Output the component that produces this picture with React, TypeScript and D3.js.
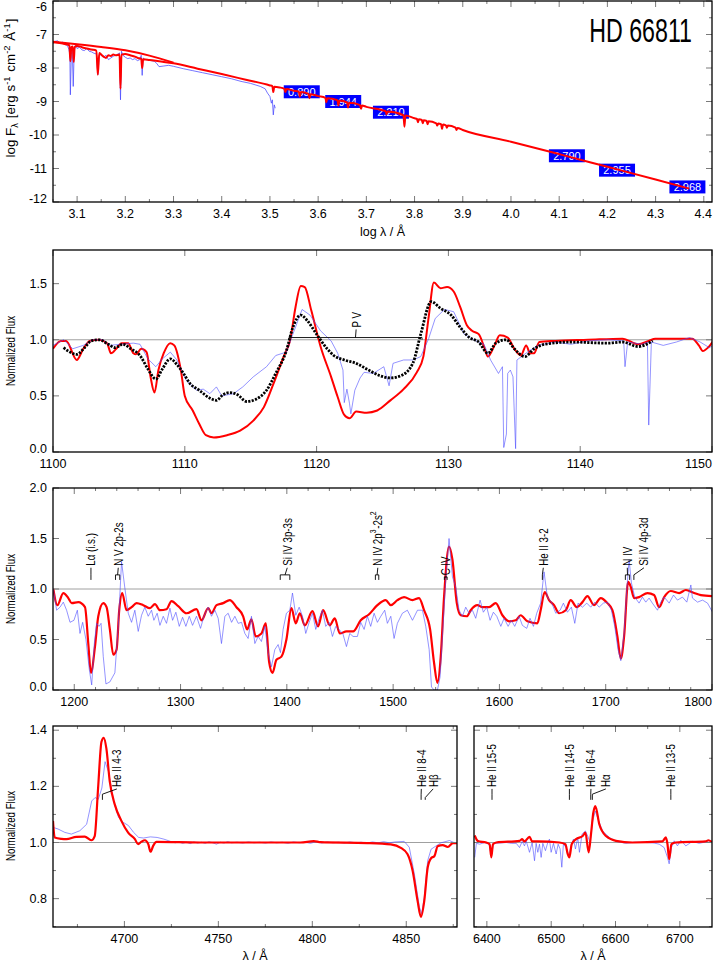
import React from "react";
import * as d3 from "d3";

type P = [number, number];
type Part = [string, "n" | "sup" | "sub"];
interface LineId { comps: number[]; lx: number; base: number; join: number; top: number; parts: Part[] }

const FONT = "'Liberation Sans', Arial, Helvetica, sans-serif";
const RED = "#ff0000";
const BLUE = "#4a4aff";

// ================= Panel 1 : SED =================
const SED_CONT: P[] = [[3.05, -7.22], [3.1, -7.29], [3.15, -7.37], [3.2, -7.47], [3.25, -7.63], [3.3, -7.84]];
const SED_MODEL: P[] = [
  [3.05, -7.23], [3.06, -7.25], [3.07, -7.27], [3.08, -7.3], [3.084, -7.32], [3.086, -7.8], [3.088, -7.38], [3.091, -7.36],
  [3.093, -7.82], [3.095, -7.37], [3.1, -7.34], [3.11, -7.38], [3.12, -7.42], [3.13, -7.45], [3.14, -7.48], [3.143, -8.2],
  [3.146, -7.55], [3.15, -7.6], [3.155, -7.66], [3.16, -7.7], [3.165, -7.62], [3.17, -7.64], [3.175, -7.6], [3.18, -7.62],
  [3.188, -7.6], [3.19, -8.62], [3.192, -7.6], [3.2, -7.58], [3.21, -7.62], [3.22, -7.66], [3.226, -7.7], [3.233, -7.72],
  [3.235, -8.0], [3.237, -7.74], [3.25, -7.76], [3.27, -7.8], [3.3, -7.86], [3.35, -8.02], [3.4, -8.18], [3.45, -8.35],
  [3.5, -8.52], [3.505, -8.54], [3.507, -8.72], [3.509, -8.56], [3.52, -8.58], [3.53, -8.62], [3.532, -8.72], [3.534, -8.63],
  [3.55, -8.68], [3.56, -8.71], [3.562, -8.86], [3.564, -8.72], [3.58, -8.77], [3.582, -8.9], [3.584, -8.78], [3.6, -8.84],
  [3.615, -8.89], [3.617, -9.02], [3.619, -8.9], [3.64, -8.96], [3.642, -9.12], [3.644, -8.97], [3.66, -9.03], [3.662, -9.18],
  [3.664, -9.04], [3.687, -9.11], [3.689, -9.22], [3.691, -9.12], [3.7, -9.16], [3.74, -9.29], [3.742, -9.38], [3.744, -9.3],
  [3.777, -9.41], [3.779, -9.75], [3.781, -9.42], [3.8, -9.5], [3.805, -9.52], [3.807, -9.62], [3.809, -9.53], [3.815, -9.55],
  [3.817, -9.65], [3.819, -9.56], [3.825, -9.58], [3.827, -9.68], [3.829, -9.59], [3.845, -9.65], [3.847, -9.72], [3.849, -9.66],
  [3.855, -9.68], [3.857, -9.82], [3.859, -9.69], [3.865, -9.71], [3.867, -9.78], [3.869, -9.72], [3.885, -9.78], [3.887, -9.85],
  [3.889, -9.79], [3.9, -9.85], [4.0, -10.2], [4.1, -10.57], [4.2, -10.95], [4.3, -11.33], [4.37, -11.6],
];
const SED_OBS: P[] = [
  [3.05, -7.27], [3.055, -7.2], [3.06, -7.19], [3.065, -7.26], [3.07, -7.23], [3.075, -7.3], [3.08, -7.33], [3.083, -7.45],
  [3.085, -7.6], [3.086, -8.8], [3.088, -7.6], [3.09, -7.45], [3.092, -8.55], [3.094, -7.5], [3.097, -7.28], [3.1, -7.42],
  [3.105, -7.38], [3.11, -7.46], [3.115, -7.48], [3.12, -7.42], [3.125, -7.5], [3.13, -7.52], [3.135, -7.56], [3.14, -7.58],
  [3.143, -8.2], [3.146, -7.62], [3.15, -7.6], [3.155, -7.68], [3.16, -7.62], [3.165, -7.75], [3.17, -7.7], [3.175, -7.65],
  [3.18, -7.62], [3.185, -7.58], [3.188, -7.55], [3.19, -8.95], [3.192, -7.5], [3.195, -7.62], [3.2, -7.68], [3.205, -7.72],
  [3.21, -7.7], [3.215, -7.75], [3.22, -7.72], [3.225, -7.78], [3.23, -7.75], [3.233, -7.62], [3.235, -8.22], [3.237, -7.7],
  [3.24, -7.74], [3.25, -7.77], [3.26, -7.8], [3.265, -7.86], [3.27, -7.96], [3.28, -7.94], [3.29, -7.92], [3.3, -7.95],
  [3.32, -8.02], [3.34, -8.08], [3.36, -8.14], [3.38, -8.2], [3.4, -8.26], [3.42, -8.32], [3.44, -8.4], [3.46, -8.46],
  [3.48, -8.55], [3.49, -8.62], [3.495, -8.75], [3.5, -8.85], [3.503, -9.05], [3.505, -8.95], [3.507, -9.4], [3.509, -9.1],
  [3.511, -9.2],
];
const PHOT_LOGLAM = [3.566, 3.652, 3.751, 4.116, 4.22, 4.366];
const PHOT_LOGF = [-8.71, -9.0, -9.32, -10.62, -11.05, -11.55];
const PHOT_MAG = ["0.890", "1.944", "2.210", "2.790", "2.955", "2.968"];
const SED_XTICKS = [3.1, 3.2, 3.3, 3.4, 3.5, 3.6, 3.7, 3.8, 3.9, 4.0, 4.1, 4.2, 4.3, 4.4];
const SED_XMINOR = [3.05, 3.15, 3.25, 3.35, 3.45, 3.55, 3.65, 3.75, 3.85, 3.95, 4.05, 4.15, 4.25, 4.35];
const SED_YTICKS = [-12, -11, -10, -9, -8, -7, -6];
const SED_YMINOR = [-11.5, -10.5, -9.5, -8.5, -7.5, -6.5];

// ================= Panel 2 : P V =================
const PV_MODEL: P[] = [
  [1100.0, 0.92], [1100.6, 0.99], [1101.0, 0.99], [1101.8, 0.82], [1102.3, 0.92], [1102.8, 0.99], [1103.5, 1.0], [1104.1, 0.97],
  [1104.4, 0.88], [1104.8, 0.92], [1105.2, 0.97], [1105.7, 0.97], [1106.1, 0.88], [1106.3, 0.87], [1106.7, 0.92], [1107.1, 0.89],
  [1107.4, 0.67], [1107.7, 0.53], [1108.0, 0.73], [1108.4, 0.88], [1108.9, 0.97], [1109.2, 0.95], [1109.7, 0.73], [1110.0, 0.5],
  [1110.6, 0.37], [1111.1, 0.25], [1111.6, 0.15], [1112.2, 0.13], [1113.2, 0.15], [1114.2, 0.19], [1115.2, 0.28], [1116.0, 0.4],
  [1116.7, 0.6], [1117.5, 0.85], [1118.0, 1.0], [1118.4, 1.29], [1118.8, 1.48], [1119.1, 1.47], [1119.6, 1.26], [1120.3, 0.94],
  [1121.1, 0.67], [1121.6, 0.49], [1122.1, 0.33], [1122.5, 0.3], [1123.0, 0.36], [1123.8, 0.35], [1124.6, 0.37], [1125.6, 0.46],
  [1126.6, 0.56], [1127.6, 0.71], [1128.1, 0.85], [1128.5, 1.2], [1128.9, 1.51], [1129.4, 1.46], [1129.9, 1.47], [1130.4, 1.43],
  [1130.9, 1.29], [1131.4, 1.13], [1131.8, 1.08], [1132.3, 1.05], [1132.7, 0.94], [1133.0, 0.85], [1133.5, 0.95], [1133.9, 1.04],
  [1134.5, 1.02], [1135.0, 0.92], [1135.5, 0.86], [1135.9, 0.95], [1136.2, 0.88], [1136.5, 0.88], [1136.9, 0.98], [1138.1, 0.99],
  [1140.6, 1.0], [1143.2, 1.01], [1144.4, 0.96], [1145.2, 0.99], [1145.7, 1.01], [1148.5, 1.01], [1149.0, 0.95], [1149.3, 0.9],
  [1149.7, 0.93], [1150.1, 0.99],
];
const PV_ALT: P[] = [
  [1100.8, 0.93], [1101.3, 0.89], [1101.8, 0.87], [1102.4, 0.93], [1102.9, 0.99], [1103.5, 1.0], [1104.2, 0.96], [1104.7, 0.93],
  [1105.3, 0.96], [1105.9, 0.92], [1106.6, 0.86], [1107.2, 0.74], [1107.8, 0.65], [1108.3, 0.74], [1108.9, 0.83], [1109.4, 0.78],
  [1109.9, 0.7], [1110.4, 0.61], [1111.1, 0.55], [1111.9, 0.48], [1112.4, 0.46], [1112.9, 0.51], [1113.4, 0.53], [1114.0, 0.51],
  [1114.7, 0.45], [1115.4, 0.47], [1116.2, 0.55], [1116.9, 0.7], [1117.7, 0.9], [1118.2, 1.11], [1118.8, 1.22], [1119.3, 1.17],
  [1120.0, 1.05], [1120.8, 0.92], [1121.3, 0.86], [1122.1, 0.82], [1123.0, 0.79], [1123.8, 0.74], [1124.8, 0.68], [1125.6, 0.66],
  [1126.4, 0.68], [1127.3, 0.79], [1127.9, 1.05], [1128.7, 1.34], [1129.4, 1.28], [1130.2, 1.22], [1130.9, 1.11], [1131.6, 1.02],
  [1132.3, 0.98], [1133.0, 0.88], [1133.6, 0.97], [1134.4, 1.0], [1135.0, 0.92], [1135.8, 0.85], [1136.5, 0.92], [1137.3, 0.96],
  [1139.3, 0.98], [1142.1, 0.97], [1143.2, 0.98], [1144.4, 0.94], [1145.5, 0.99],
];
const PV_OBS: P[] = [
  [1100.0, 0.95], [1100.8, 1.0], [1101.5, 0.92], [1102.3, 0.95], [1103.0, 1.0], [1103.8, 1.0], [1104.3, 0.95], [1105.1, 0.96],
  [1106.1, 0.97], [1106.6, 0.96], [1107.2, 0.83], [1107.8, 0.76], [1108.3, 0.83], [1108.9, 0.89], [1109.4, 0.82], [1110.1, 0.64],
  [1110.9, 0.55], [1111.4, 0.56], [1111.9, 0.52], [1112.4, 0.58], [1112.8, 0.5], [1113.7, 0.52], [1114.4, 0.58], [1115.2, 0.67],
  [1116.2, 0.76], [1116.9, 0.86], [1117.7, 0.89], [1118.2, 1.05], [1118.9, 1.27], [1119.5, 1.22], [1120.3, 1.08], [1121.1, 0.99],
  [1121.6, 0.88], [1122.0, 0.73], [1122.1, 0.44], [1122.3, 0.56], [1122.5, 0.43], [1122.6, 0.34], [1122.9, 0.55], [1123.3, 0.66],
  [1123.6, 0.71], [1124.3, 0.7], [1125.1, 0.76], [1125.5, 0.59], [1125.8, 0.79], [1126.6, 0.82], [1127.3, 0.82], [1127.9, 0.85],
  [1128.5, 1.01], [1129.0, 1.19], [1129.7, 1.27], [1130.4, 1.25], [1131.2, 1.05], [1131.9, 1.0], [1132.7, 0.96], [1133.2, 0.82],
  [1133.8, 0.7], [1134.1, 0.76], [1134.2, 0.04], [1134.4, 0.16], [1134.5, 0.7], [1134.7, 0.73], [1134.9, 0.67], [1135.1, 0.03],
  [1135.2, 0.82], [1136.0, 0.89], [1136.8, 0.95], [1138.1, 0.98], [1139.3, 0.96], [1140.6, 0.99], [1142.1, 1.0], [1143.3, 0.99],
  [1143.4, 0.76], [1143.6, 0.98], [1144.7, 0.96], [1145.1, 0.98], [1145.2, 0.24], [1145.4, 0.98], [1146.3, 0.95], [1147.3, 0.98],
  [1148.3, 1.02], [1149.1, 0.98], [1149.8, 0.93], [1150.2, 0.96],
];
const PV_XTICKS = [1100, 1110, 1120, 1130, 1140, 1150];
const PV_YTICKS = [0, 0.5, 1.0, 1.5];

// ================= Panel 3 : UV =================
const UV_MODEL: P[] = [
  [1180.3, 1.0], [1184.1, 0.84], [1189.7, 0.96], [1194.4, 0.91], [1197.6, 0.86], [1203.8, 0.87], [1210.1, 0.82], [1213.2, 0.46],
  [1215.7, 0.17], [1219.5, 0.43], [1222.6, 0.73], [1227.3, 0.86], [1230.4, 0.82], [1233.5, 0.6], [1236.7, 0.35], [1239.8, 0.4],
  [1242.3, 0.79], [1245.1, 0.96], [1249.2, 0.79], [1253.9, 0.82], [1258.6, 0.86], [1264.9, 0.84], [1271.2, 0.81], [1275.9, 0.85],
  [1280.6, 0.79], [1286.8, 0.8], [1291.5, 0.88], [1297.8, 0.83], [1305.6, 0.76], [1315.0, 0.8], [1319.7, 0.69], [1326.0, 0.81],
  [1329.1, 0.76], [1333.8, 0.84], [1340.1, 0.86], [1346.3, 0.89], [1352.6, 0.82], [1358.9, 0.73], [1362.6, 0.6], [1366.7, 0.7],
  [1370.7, 0.53], [1376.1, 0.56], [1380.2, 0.66], [1383.3, 0.28], [1386.5, 0.17], [1390.2, 0.3], [1394.9, 0.33], [1399.6, 0.5],
  [1404.3, 0.81], [1408.4, 0.66], [1412.2, 0.76], [1416.9, 0.64], [1424.1, 0.78], [1429.4, 0.63], [1434.1, 0.79], [1440.4, 0.64],
  [1445.1, 0.71], [1449.8, 0.56], [1456.1, 0.58], [1462.3, 0.58], [1469.5, 0.69], [1477.4, 0.75], [1485.2, 0.84], [1493.0, 0.89],
  [1497.8, 0.84], [1504.0, 0.89], [1510.3, 0.92], [1518.2, 0.89], [1524.4, 0.91], [1529.1, 0.79], [1534.8, 0.6], [1538.5, 0.27],
  [1541.7, 0.07], [1544.8, 0.33], [1547.9, 0.92], [1552.6, 1.42], [1555.8, 1.29], [1559.9, 0.86], [1563.6, 0.74], [1569.3, 0.73],
  [1573.0, 0.79], [1579.3, 0.84], [1584.0, 0.82], [1590.3, 0.82], [1596.5, 0.86], [1602.8, 0.74], [1609.1, 0.68], [1615.3, 0.69],
  [1620.0, 0.74], [1626.3, 0.68], [1635.7, 0.66], [1638.8, 0.79], [1642.6, 0.97], [1646.7, 0.89], [1651.4, 0.84], [1656.1, 0.76],
  [1662.4, 0.79], [1667.1, 0.89], [1672.7, 0.82], [1678.1, 0.87], [1682.8, 0.93], [1689.0, 0.84], [1695.3, 0.91], [1701.6, 0.86],
  [1706.3, 0.79], [1711.0, 0.53], [1714.2, 0.31], [1717.3, 0.53], [1721.1, 1.07], [1723.6, 1.02], [1726.7, 0.91], [1731.4, 0.92],
  [1739.3, 0.96], [1745.5, 0.94], [1750.3, 0.82], [1755.0, 0.92], [1761.2, 0.98], [1769.1, 0.96], [1775.4, 0.99], [1783.2, 0.96],
  [1789.5, 0.94], [1800.4, 0.93],
];
const UV_OBS: P[] = [
  [1180.3, 1.0], [1183.4, 0.79], [1186.6, 0.82], [1189.7, 0.87], [1192.8, 0.79], [1196.0, 0.67], [1199.7, 0.69], [1202.9, 0.79],
  [1205.4, 0.56], [1207.9, 0.67], [1211.0, 0.5], [1214.2, 0.2], [1216.4, 0.05], [1218.9, 0.46], [1221.0, 0.66], [1223.3, 0.63],
  [1225.2, 0.66], [1227.3, 0.33], [1229.8, 0.06], [1233.5, 0.08], [1238.2, 0.17], [1241.4, 0.63], [1244.5, 1.27], [1247.6, 1.01],
  [1250.8, 0.76], [1253.9, 0.67], [1257.0, 0.79], [1260.2, 0.58], [1263.3, 0.74], [1266.4, 0.82], [1269.6, 0.73], [1272.7, 0.79],
  [1274.9, 0.69], [1278.0, 0.76], [1280.6, 0.64], [1283.7, 0.73], [1286.8, 0.66], [1290.0, 0.81], [1292.5, 0.69], [1295.6, 0.77],
  [1298.8, 0.63], [1301.9, 0.72], [1305.0, 0.63], [1308.2, 0.73], [1311.3, 0.64], [1315.0, 0.73], [1318.8, 0.61], [1322.0, 0.73],
  [1326.0, 0.82], [1329.1, 0.73], [1332.3, 0.79], [1335.4, 0.71], [1338.5, 0.46], [1341.7, 0.73], [1344.8, 0.76], [1348.0, 0.67],
  [1351.1, 0.73], [1354.2, 0.66], [1357.4, 0.67], [1360.5, 0.56], [1363.6, 0.51], [1366.7, 0.73], [1369.9, 0.46], [1373.0, 0.53],
  [1376.1, 0.48], [1379.3, 0.63], [1382.4, 0.37], [1385.5, 0.23], [1388.7, 0.4], [1391.8, 0.45], [1394.0, 0.37], [1396.5, 0.6],
  [1399.6, 0.76], [1402.8, 0.79], [1405.3, 0.96], [1408.4, 0.74], [1411.6, 0.82], [1414.7, 0.73], [1417.8, 0.56], [1421.0, 0.67],
  [1424.1, 0.76], [1427.2, 0.6], [1430.4, 0.71], [1433.5, 0.79], [1436.6, 0.63], [1439.8, 0.67], [1442.9, 0.53], [1446.0, 0.63],
  [1449.2, 0.6], [1452.9, 0.55], [1456.1, 0.43], [1459.2, 0.56], [1462.3, 0.53], [1466.4, 0.53], [1469.5, 0.67], [1472.7, 0.6],
  [1475.8, 0.73], [1478.9, 0.63], [1482.1, 0.76], [1485.2, 0.67], [1488.4, 0.73], [1492.1, 0.79], [1494.6, 0.66], [1497.8, 0.73],
  [1500.9, 0.51], [1504.0, 0.66], [1508.7, 0.76], [1513.4, 0.79], [1518.2, 0.69], [1522.9, 0.79], [1527.6, 0.79], [1530.7, 0.63],
  [1533.9, 0.4], [1536.1, 0.03], [1538.5, 0.0], [1541.7, 0.0], [1544.2, 0.13], [1546.4, 0.53], [1549.5, 1.09], [1552.6, 1.5],
  [1555.8, 1.12], [1558.9, 1.02], [1562.0, 0.79], [1565.2, 0.73], [1568.3, 0.82], [1571.4, 0.76], [1574.6, 0.79], [1577.7, 0.71],
  [1581.8, 0.89], [1584.9, 0.77], [1588.1, 0.82], [1591.2, 0.69], [1594.3, 0.77], [1597.5, 0.73], [1601.3, 0.63], [1604.4, 0.71],
  [1608.2, 0.63], [1611.3, 0.69], [1614.4, 0.63], [1618.5, 0.73], [1621.6, 0.64], [1625.7, 0.61], [1628.8, 0.71], [1632.0, 0.63],
  [1635.1, 0.76], [1638.8, 0.86], [1642.0, 1.17], [1645.1, 0.92], [1648.9, 0.87], [1653.0, 0.76], [1657.1, 0.79], [1660.2, 0.86],
  [1664.0, 0.77], [1667.7, 0.82], [1670.9, 0.66], [1674.0, 0.86], [1678.1, 0.82], [1682.2, 0.86], [1685.9, 0.82], [1689.7, 0.87],
  [1693.8, 0.82], [1697.8, 0.86], [1701.6, 0.87], [1705.4, 0.79], [1708.5, 0.63], [1711.6, 0.4], [1714.2, 0.29], [1717.3, 0.56],
  [1719.8, 0.99], [1722.0, 1.29], [1724.2, 1.06], [1727.3, 0.92], [1731.4, 0.86], [1734.5, 0.92], [1737.7, 0.87], [1740.8, 0.91],
  [1743.9, 0.86], [1748.7, 0.79], [1751.8, 0.87], [1755.0, 0.92], [1759.7, 0.86], [1763.8, 0.94], [1767.5, 0.89], [1772.2, 0.92],
  [1776.3, 0.87], [1780.1, 1.04], [1781.6, 0.91], [1786.4, 0.87], [1791.1, 0.89], [1795.8, 0.86], [1800.5, 0.77],
];
const UV_XTICKS = [1200, 1300, 1400, 1500, 1600, 1700, 1800];
const UV_XMINOR = [1180, 1220, 1240, 1260, 1280, 1320, 1340, 1360, 1380, 1420, 1440, 1460, 1480, 1520, 1540, 1560, 1580, 1620, 1640, 1660, 1680, 1720, 1740, 1760, 1780];
const UV_YTICKS = [0, 0.5, 1.0, 1.5, 2.0];
const UV_IDS: LineId[] = [
  { comps: [1215.7], lx: 1215.7, base: 1.09, join: 1.14, top: 1.23, parts: [["Lα (i.s.)", "n"]] },
  { comps: [1238.8, 1242.8], lx: 1241.4, base: 1.09, join: 1.14, top: 1.23, parts: [["N V 2p-2s", "n"]] },
  { comps: [1393.8, 1402.8], lx: 1400.4, base: 1.09, join: 1.14, top: 1.23, parts: [["Si IV 3p-3s", "n"]] },
  { comps: [1483.3, 1486.5], lx: 1485.6, base: 1.09, join: 1.14, top: 1.23, parts: [["N IV 2p", "n"], ["3", "sup"], ["-2s", "n"], ["2", "sup"]] },
  { comps: [1548.2, 1550.8], lx: 1549.6, base: 1.09, join: 1.12, top: 1.135, parts: [["C IV", "n"]] },
  { comps: [1640.4], lx: 1641.3, base: 1.09, join: 1.14, top: 1.23, parts: [["He II 3-2", "n"]] },
  { comps: [1718.5, 1722.5], lx: 1720.3, base: 1.09, join: 1.14, top: 1.23, parts: [["N IV", "n"]] },
  { comps: [1726.5], lx: 1736.0, base: 1.09, join: 1.14, top: 1.23, parts: [["Si IV 4p-3d", "n"]] },
];

// ================= Panel 4 : He II 4686 / Hbeta =================
const HB_MODEL: P[] = [
  [4662.0, 1.077], [4662.9, 1.018], [4666.5, 1.013], [4669.1, 1.012], [4674.4, 1.02], [4678.9, 1.021], [4682.4, 1.008],
  [4684.2, 1.023], [4686.0, 1.194], [4687.8, 1.359], [4689.0, 1.373], [4690.4, 1.335], [4692.2, 1.218], [4694.9, 1.135],
  [4698.4, 1.077], [4702.0, 1.035], [4705.6, 1.012], [4707.3, 0.994], [4709.1, 1.003], [4710.9, 1.008], [4712.7, 0.994],
  [4713.9, 0.967], [4715.3, 0.988], [4717.1, 1.002], [4740.3, 1.0], [4793.7, 1.0], [4800.8, 1.005], [4804.4, 1.001],
  [4829.3, 0.998], [4841.8, 0.993], [4847.1, 0.981], [4850.7, 0.958], [4853.4, 0.899], [4856.0, 0.793], [4857.8, 0.735],
  [4859.6, 0.793], [4861.4, 0.911], [4863.2, 0.944], [4865.0, 0.952], [4866.7, 0.987], [4869.4, 0.991], [4872.1, 0.984],
  [4874.8, 0.998], [4877.4, 0.998],
];
const HB_OBS: P[] = [
  [4662.0, 1.054], [4664.7, 1.048], [4668.3, 1.036], [4671.8, 1.03], [4676.3, 1.042], [4679.9, 1.065], [4682.6, 1.148],
  [4684.4, 1.16], [4686.1, 1.154], [4688.0, 1.194], [4689.7, 1.288], [4691.5, 1.253], [4694.2, 1.148], [4696.9, 1.089],
  [4699.6, 1.071], [4702.2, 1.06], [4704.9, 1.036], [4707.6, 1.018], [4710.2, 1.016], [4713.8, 1.02], [4717.4, 1.018],
  [4721.0, 1.012], [4724.5, 1.004], [4727, 0.999], [4729, 1.002], [4731, 0.997], [4733, 1.001], [4735, 0.996], [4737, 1.002],
  [4739, 0.998], [4741, 1.001], [4743, 0.997], [4745, 1.003], [4747, 0.999], [4749, 0.994], [4751, 1.001], [4753, 0.998],
  [4755, 1.003], [4757, 0.999], [4760, 1.001], [4763, 0.998], [4766, 1.002], [4769, 0.999], [4772, 1.001], [4775, 0.998],
  [4778, 1.002], [4781, 0.999], [4784, 1.001], [4787, 0.997], [4790, 1.002], [4793, 0.999], [4796, 1.001], [4799, 0.997],
  [4802, 1.003], [4805, 0.998], [4808, 1.002], [4811, 0.999], [4814, 1.001], [4817, 0.998], [4820, 1.002], [4823, 0.999],
  [4826, 1.001], [4829, 0.998], [4832, 1.002], [4835, 0.999], [4838, 1.003], [4841, 0.999], [4844, 1.002], [4848.9, 1.004],
  [4851.6, 0.983], [4854.3, 0.888], [4857.0, 0.77], [4858.2, 0.746], [4859.6, 0.805], [4861.4, 0.935], [4863.2, 0.976],
  [4865.9, 0.988], [4868.5, 0.999], [4873.0, 1.007], [4875.7, 0.999], [4877.4, 0.998],
];
const HB_XTICKS = [4700, 4750, 4800, 4850];
const HB_XMINOR = [4675, 4725, 4775, 4825, 4875];
const OPT_YTICKS = [0.8, 1.0, 1.2, 1.4];
const OPT_YMINOR = [0.7, 0.9, 1.1, 1.3];
const HB_IDS: LineId[] = [
  { comps: [4688.3], lx: 4696.0, base: 1.152, join: 1.172, top: 1.198, parts: [["He II 4-3", "n"]] },
  { comps: [4857.9], lx: 4858.0, base: 1.152, join: 1.17, top: 1.198, parts: [["He II 8-4", "n"]] },
  { comps: [4860.1], lx: 4864.3, base: 1.152, join: 1.16, top: 1.198, parts: [["Hβ", "n"]] },
];

// ================= Panel 5 : Halpha =================
const HA_MODEL: P[] = [
  [6381.1, 1.025], [6386.2, 1.005], [6399.1, 1.0], [6404.3, 0.994], [6406.9, 0.947], [6409.5, 0.994], [6414.6, 1.0],
  [6450.8, 1.006], [6454.9, 1.012], [6458.5, 1.004], [6466.3, 1.02], [6470.4, 1.004], [6479.2, 1.004], [6512.8, 1.0],
  [6522.1, 0.994], [6525.7, 0.959], [6528.3, 0.947], [6531.9, 0.994], [6538.7, 1.012], [6549.0, 1.023], [6553.2, 1.035],
  [6558.3, 0.965], [6561.9, 1.03], [6565.5, 1.106], [6568.6, 1.13], [6574.8, 1.065], [6585.2, 1.023], [6600.7, 1.006],
  [6626.5, 1.0], [6673.0, 1.004], [6678.2, 1.018], [6680.8, 0.994], [6683.4, 0.941], [6687.0, 0.994], [6693.7, 1.0],
  [6740.2, 1.004], [6744.4, 1.008], [6750.6, 1.0],
];
const HA_OBS: P[] = [
  [6381.1, 0.947], [6383.7, 0.997], [6388.8, 0.994], [6396.6, 1.0], [6403.3, 0.994], [6406.9, 0.953], [6410.5, 0.997],
  [6420.0, 0.998], [6430.2, 1.0], [6438.0, 0.997], [6445.7, 0.997], [6450.8, 0.982], [6454.9, 1.004], [6458.5, 0.988],
  [6461.1, 1.006], [6466.3, 0.965], [6470.4, 1.0], [6474.1, 0.935], [6476.6, 0.997], [6479.2, 0.965], [6481.8, 0.994],
  [6484.4, 0.947], [6487.0, 0.997], [6491.1, 0.971], [6494.7, 1.0], [6497.3, 1.012], [6499.9, 0.965], [6503.5, 0.997],
  [6507.7, 0.959], [6510.8, 0.994], [6513.9, 0.977], [6516.5, 0.912], [6519.0, 0.994], [6523.2, 0.982], [6527.3, 0.953],
  [6530.9, 0.988], [6534.6, 1.012], [6537.7, 0.977], [6541.3, 1.018], [6543.9, 0.965], [6548.0, 1.03], [6553.2, 1.041],
  [6556.8, 1.023], [6560.4, 1.0], [6564.5, 1.077], [6568.6, 1.112], [6573.8, 1.077], [6580.0, 1.041], [6590.4, 1.018],
  [6600.7, 1.004], [6616.2, 0.997], [6630.0, 1.001], [6647.2, 1.0], [6660.0, 0.998], [6667.9, 0.994], [6675.6, 0.982],
  [6680.8, 0.947], [6683.4, 0.924], [6687.0, 0.982], [6691.2, 1.006], [6696.3, 0.988], [6701.5, 1.008], [6709.3, 0.988],
  [6719.6, 1.004], [6729.9, 0.997], [6740.0, 1.002], [6750.6, 1.0],
];
const HA_XTICKS = [6400, 6500, 6600, 6700];
const HA_XMINOR = [6450, 6550, 6650];
const HA_IDS: LineId[] = [
  { comps: [6408.0], lx: 6408.0, base: 1.152, join: 1.17, top: 1.198, parts: [["He II 15-5", "n"]] },
  { comps: [6528.3], lx: 6528.3, base: 1.152, join: 1.17, top: 1.198, parts: [["He II 14-5", "n"]] },
  { comps: [6561.5], lx: 6561.8, base: 1.152, join: 1.172, top: 1.198, parts: [["He II 6-4", "n"]] },
  { comps: [6564.0], lx: 6585.0, base: 1.152, join: 1.172, top: 1.198, parts: [["Hα", "n"]] },
  { comps: [6686.0], lx: 6686.0, base: 1.152, join: 1.17, top: 1.198, parts: [["He II 13-5", "n"]] },
];

const PV_IDS: LineId[] = [
  { comps: [1117.9, 1128.0], lx: 1123.0, base: 1.0, join: 1.02, top: 1.11, parts: [["P V", "n"]] },
];

// ================= helpers =================
type Sc = d3.ScaleLinear<number, number>;
const ID_SIZE = 12.5;
const ID_SCALE = 0.78;

function Parts({ parts, size }: { parts: Part[]; size: number }) {
  const out: React.ReactNode[] = [];
  parts.forEach((p, i) => {
    if (p[1] === "n") out.push(<tspan key={i}>{p[0]}</tspan>);
    else {
      const d = p[1] === "sup" ? -size * 0.38 : size * 0.25;
      out.push(
        <tspan key={i} dy={d} fontSize={size * 0.7}>{p[0]}</tspan>
      );
      out.push(<tspan key={i + "r"} dy={-d}>{"\u200a"}</tspan>);
    }
  });
  return <>{out}</>;
}

function LineIdMark({ id, sx, sy }: { id: LineId; sx: Sc; sy: Sc }) {
  const xs = id.comps.map((c) => sx(c));
  const yb = sy(id.base), yj = sy(id.join), yt = sy(id.top);
  const xm = (d3.min(xs)! + d3.max(xs)!) / 2;
  const xl = sx(id.lx);
  const st = { stroke: "#000", strokeWidth: 0.9, fill: "none" } as const;
  return (
    <g>
      {xs.map((x, i) => <line key={i} x1={x} x2={x} y1={yb} y2={yj} {...st} />)}
      {xs.length > 1 && <line x1={d3.min(xs)} x2={d3.max(xs)} y1={yj} y2={yj} {...st} />}
      <line x1={xm} y1={yj} x2={xl} y2={yt - 1.5 < yj ? yt + 2 : yj} {...st} />
      <line x1={xl} y1={Math.min(yj, yt + 2)} x2={xl} y2={yt + 2} {...st} />
      <text transform={`translate(${xl},${yt}) rotate(-90) scale(${ID_SCALE},1)`} fontSize={ID_SIZE} fontFamily={FONT}
        dominantBaseline="central" textAnchor="start" fill="#000">
        <Parts parts={id.parts} size={ID_SIZE} />
      </text>
    </g>
  );
}

interface PanelCfg {
  id: string;
  x0: number; x1: number; y0: number; y1: number;
  xDom: [number, number]; yDom: [number, number];
  xMajor: number[]; xMinor: number[]; xFmt: (v: number) => string;
  yMajor: number[]; yMinor: number[]; yFmt: ((v: number) => string) | null;
  refLine?: number;
}

function Panel({ cfg, children, overlay }: { cfg: PanelCfg; children: (sx: Sc, sy: Sc) => React.ReactNode; overlay?: (sx: Sc, sy: Sc) => React.ReactNode }) {
  const sx = d3.scaleLinear().domain(cfg.xDom).range([cfg.x0, cfg.x1]);
  const sy = d3.scaleLinear().domain(cfg.yDom).range([cfg.y1, cfg.y0]);
  const tk = { stroke: "#7a7a7a", strokeWidth: 1 };
  const ML = 6, mL = 3;
  return (
    <g>
      <defs>
        <clipPath id={"clip-" + cfg.id}>
          <rect x={cfg.x0} y={cfg.y0} width={cfg.x1 - cfg.x0} height={cfg.y1 - cfg.y0} />
        </clipPath>
      </defs>
      {cfg.refLine !== undefined && (
        <line x1={cfg.x0} x2={cfg.x1} y1={sy(cfg.refLine)} y2={sy(cfg.refLine)} stroke="#a0a0a0" strokeWidth={1} />
      )}
      <g clipPath={`url(#clip-${cfg.id})`}>{children(sx, sy)}</g>
      {cfg.xMajor.map((v) => (
        <g key={"xM" + v}>
          <line x1={sx(v)} x2={sx(v)} y1={cfg.y1} y2={cfg.y1 - ML} {...tk} />
          <line x1={sx(v)} x2={sx(v)} y1={cfg.y0} y2={cfg.y0 + ML} {...tk} />
        </g>
      ))}
      {cfg.xMinor.map((v) => (
        <g key={"xm" + v}>
          <line x1={sx(v)} x2={sx(v)} y1={cfg.y1} y2={cfg.y1 - mL} {...tk} />
          <line x1={sx(v)} x2={sx(v)} y1={cfg.y0} y2={cfg.y0 + mL} {...tk} />
        </g>
      ))}
      {cfg.yMajor.map((v) => (
        <g key={"yM" + v}>
          <line x1={cfg.x0} x2={cfg.x0 + ML} y1={sy(v)} y2={sy(v)} {...tk} />
          <line x1={cfg.x1} x2={cfg.x1 - ML} y1={sy(v)} y2={sy(v)} {...tk} />
        </g>
      ))}
      {cfg.yMinor.map((v) => (
        <g key={"ym" + v}>
          <line x1={cfg.x0} x2={cfg.x0 + mL} y1={sy(v)} y2={sy(v)} {...tk} />
          <line x1={cfg.x1} x2={cfg.x1 - mL} y1={sy(v)} y2={sy(v)} {...tk} />
        </g>
      ))}
      <rect x={cfg.x0} y={cfg.y0} width={cfg.x1 - cfg.x0} height={cfg.y1 - cfg.y0} fill="none" stroke="#000" strokeWidth={1.3} />
      {cfg.xMajor.map((v) => {
        const x = sx(v);
        const over = x + 14 > 714;
        return (
          <text key={"xl" + v} x={over ? cfg.x1 : x} y={cfg.y1 + 15.5} textAnchor={over ? "end" : "middle"}
            fontSize={12.5} fontFamily={FONT} fill="#000">{cfg.xFmt(v)}</text>
        );
      })}
      {cfg.yFmt && cfg.yMajor.map((v) => (
        <text key={"yl" + v} x={cfg.x0 - 6} y={Math.min(Math.max(sy(v), 7), cfg.y1 - 3)} textAnchor="end" dominantBaseline="central"
          fontSize={12.5} fontFamily={FONT} fill="#000">{cfg.yFmt!(v)}</text>
      ))}
      {overlay && overlay(sx, sy)}
    </g>
  );
}

function red(sx: Sc, sy: Sc, data: P[], w = 2) {
  const g = d3.line<P>().x((d) => sx(d[0])).y((d) => sy(d[1])).curve(d3.curveMonotoneX);
  return <path d={g(data) || ""} fill="none" stroke={RED} strokeWidth={w} strokeLinejoin="round" />;
}
function blue(sx: Sc, sy: Sc, data: P[], w = 0.8) {
  const g = d3.line<P>().x((d) => sx(d[0])).y((d) => sy(d[1]));
  return <path d={g(data) || ""} fill="none" stroke={BLUE} strokeWidth={w} strokeOpacity={0.85} strokeLinejoin="round" />;
}

function YTitle({ x, y, parts, len }: { x: number; y: number; parts: Part[]; len: number }) {
  return (
    <text transform={`translate(${x},${y}) rotate(-90)`} fontSize={13.5} fontFamily={FONT} textAnchor="middle"
      textLength={len} lengthAdjust="spacingAndGlyphs" fill="#000">
      <Parts parts={parts} size={13.5} />
    </text>
  );
}

export default function App() {
  const f1 = (v: number) => v.toFixed(1);
  const f0 = (v: number) => String(v);
  const p1: PanelCfg = { id: "sed", x0: 53, x1: 712, y0: 1, y1: 202, xDom: [3.05, 4.417], yDom: [-12, -6],
    xMajor: SED_XTICKS, xMinor: SED_XMINOR, xFmt: f1, yMajor: SED_YTICKS, yMinor: SED_YMINOR, yFmt: f0 };
  const p2: PanelCfg = { id: "pv", x0: 53, x1: 712, y0: 250, y1: 452, xDom: [1100, 1150], yDom: [0, 1.8],
    xMajor: PV_XTICKS, xMinor: [], xFmt: f0, yMajor: PV_YTICKS, yMinor: [], yFmt: f1, refLine: 1 };
  const p3: PanelCfg = { id: "uv", x0: 53, x1: 712, y0: 488, y1: 690, xDom: [1180, 1800], yDom: [0, 2],
    xMajor: UV_XTICKS, xMinor: UV_XMINOR, xFmt: f0, yMajor: UV_YTICKS, yMinor: [], yFmt: f1, refLine: 1 };
  const p4: PanelCfg = { id: "hb", x0: 53, x1: 457, y0: 726, y1: 927, xDom: [4662, 4877], yDom: [0.699, 1.415],
    xMajor: HB_XTICKS, xMinor: HB_XMINOR, xFmt: f0, yMajor: OPT_YTICKS, yMinor: OPT_YMINOR, yFmt: f1, refLine: 1 };
  const p5: PanelCfg = { id: "ha", x0: 474, x1: 712, y0: 726, y1: 927, xDom: [6380, 6750], yDom: [0.699, 1.415],
    xMajor: HA_XTICKS, xMinor: HA_XMINOR, xFmt: f0, yMajor: OPT_YTICKS, yMinor: OPT_YMINOR, yFmt: null, refLine: 1 };

  const nf: Part[] = [["Normalized Flux", "n"]];
  return (
    <svg width={714} height={966} style={{ position: "absolute", left: 0, top: 0, background: "#fff" }}
      xmlns="http://www.w3.org/2000/svg">
      <rect x={0} y={0} width={714} height={966} fill="#fff" />
      <Panel cfg={p1}>
        {(sx, sy) => (
          <g>
            {blue(sx, sy, SED_OBS, 0.9)}
            {PHOT_LOGLAM.map((l, i) => (
              <g key={i}>
                <rect x={sx(l) - 18} y={sy(PHOT_LOGF[i]) - 6.5} width={36} height={13} fill="#0000ff" />
                <text x={sx(l)} y={sy(PHOT_LOGF[i])} textAnchor="middle" dominantBaseline="central" fontSize={11}
                  fontFamily={FONT} fill="#fff">{PHOT_MAG[i]}</text>
              </g>
            ))}
            {red(sx, sy, SED_CONT, 2)}
            {red(sx, sy, SED_MODEL, 2)}
          </g>
        )}
      </Panel>
      <text transform="translate(692,42) scale(0.71,1)" textAnchor="end" fontSize={32.7} fontFamily={FONT}
        fill="#000">HD 66811</text>
      <text x={382.5} y={236} textAnchor="middle" fontSize={12.5} fontFamily={FONT} fill="#000">log λ / Å</text>
      <YTitle x={15} y={88} len={139}
        parts={[["log F", "n"], ["λ", "sub"], [" [erg s", "n"], ["-1", "sup"], [" cm", "n"], ["-2", "sup"], [" Å", "n"], ["-1", "sup"], ["]", "n"]]} />

      <Panel cfg={p2}
        overlay={(sx, sy) => PV_IDS.map((id, i) => <LineIdMark key={i} id={id} sx={sx} sy={sy} />)}>
        {(sx, sy) => {
          const g = d3.line<P>().x((d) => sx(d[0])).y((d) => sy(d[1])).curve(d3.curveMonotoneX);
          return (
            <g>
              {red(sx, sy, PV_MODEL, 2)}
              {blue(sx, sy, PV_OBS, 0.7)}
              <path d={g(PV_ALT) || ""} fill="none" stroke="#000" strokeWidth={2.8} strokeDasharray="2.2 1.3" />
            </g>
          );
        }}
      </Panel>
      <YTitle x={15} y={351} len={70} parts={nf} />

      <Panel cfg={p3}
        overlay={(sx, sy) => UV_IDS.map((id, i) => <LineIdMark key={i} id={id} sx={sx} sy={sy} />)}>
        {(sx, sy) => (
          <g>
            {red(sx, sy, UV_MODEL, 2.2)}
            {blue(sx, sy, UV_OBS, 0.7)}
          </g>
        )}
      </Panel>
      <YTitle x={15} y={589} len={70} parts={nf} />

      <Panel cfg={p4}
        overlay={(sx, sy) => HB_IDS.map((id, i) => <LineIdMark key={i} id={id} sx={sx} sy={sy} />)}>
        {(sx, sy) => (
          <g>
            {blue(sx, sy, HB_OBS, 0.7)}
            {red(sx, sy, HB_MODEL, 2.2)}
          </g>
        )}
      </Panel>
      <YTitle x={15} y={826} len={70} parts={nf} />
      <text x={255} y={960} textAnchor="middle" fontSize={12.5} fontFamily={FONT} fill="#000">λ / Å</text>

      <Panel cfg={p5}
        overlay={(sx, sy) => HA_IDS.map((id, i) => <LineIdMark key={i} id={id} sx={sx} sy={sy} />)}>
        {(sx, sy) => (
          <g>
            {blue(sx, sy, HA_OBS, 0.7)}
            {red(sx, sy, HA_MODEL, 2.2)}
          </g>
        )}
      </Panel>
      <text x={593} y={960} textAnchor="middle" fontSize={12.5} fontFamily={FONT} fill="#000">λ / Å</text>
    </svg>
  );
}
